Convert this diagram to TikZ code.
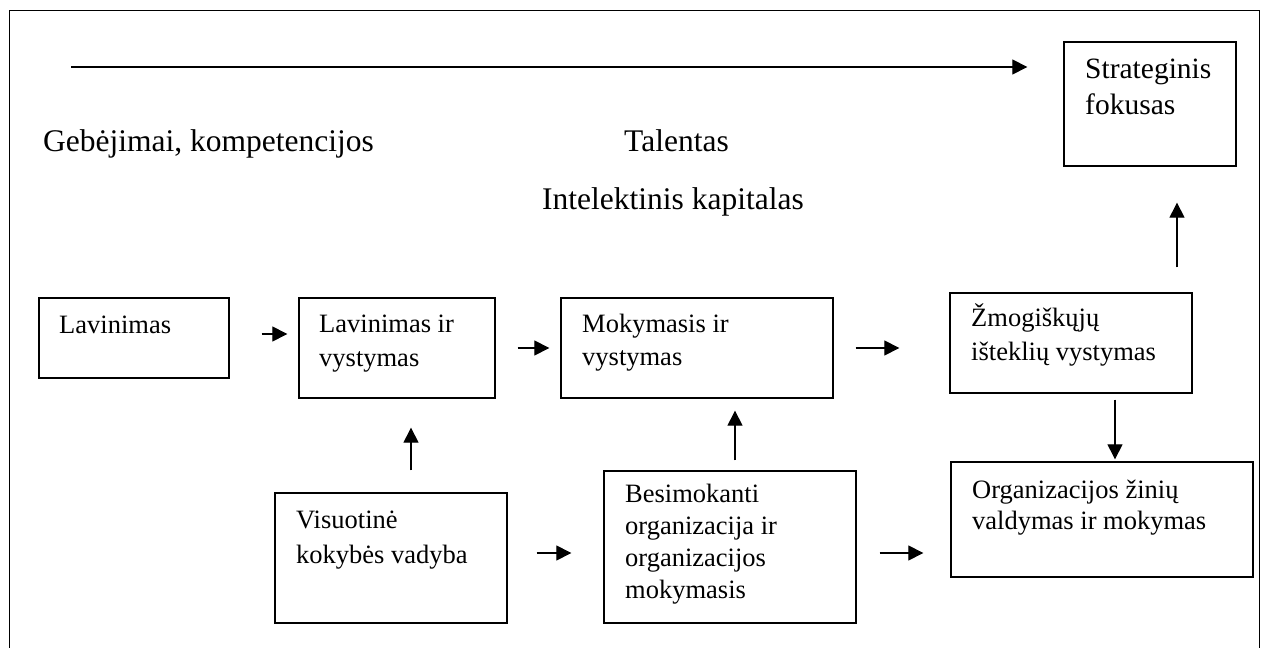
\documentclass[tikz,border=0pt]{standalone}
\usepackage{fontspec}
\setmainfont{Liberation Serif}
\usetikzlibrary{arrows.meta}
\begin{document}
\begin{tikzpicture}[x=1bp,y=-1bp,
  box/.style={draw, line width=1.3bp, inner sep=0pt},
  lbl/.style={anchor=base west, inner sep=0pt, align=left,
    font=\fontsize{26.5bp}{34bp}\selectfont},
  ttl/.style={anchor=base west, inner sep=0pt,
    font=\fontsize{31.5bp}{38bp}\selectfont},
  arr/.style={line width=1.1bp, -{Triangle[length=15bp,width=15bp]}}]
\clip (0,0) rectangle (1263,648);
\fill[white] (0,0) rectangle (1263,648);
% outer frame, open at the bottom edge of the page
\draw[line width=1.4bp] (9.5,700) -- (9.5,10.5) -- (1259.5,10.5) -- (1259.5,700);

% boxes
\node[box, minimum width=172bp, minimum height=124bp] (strat) at (1150,104) {};
\node[box, minimum width=190bp, minimum height=80bp]  (lav)   at (134,338) {};
\node[box, minimum width=196bp, minimum height=100bp] (liv)   at (397,348) {};
\node[box, minimum width=272bp, minimum height=100bp] (mok)   at (697,348) {};
\node[box, minimum width=242bp, minimum height=100bp] (zmog)  at (1071,343) {};
\node[box, minimum width=232bp, minimum height=130bp] (vkv)   at (391,558) {};
\node[box, minimum width=252bp, minimum height=152bp] (bes)   at (730,547) {};
\node[box, minimum width=302bp, minimum height=115bp] (org)   at (1102,519.5) {};

% box texts (placed by the baseline of their last line)
\node[lbl, font=\fontsize{29.5bp}{36bp}\selectfont] (stratT) at (1085,115) {Strateginis\\fokusas};
\node[lbl] (lavT)  at (59,334)  {Lavinimas};
\node[lbl] (livT)  at (319,367) {Lavinimas ir\\vystymas};
\node[lbl, font=\fontsize{26.5bp}{33bp}\selectfont] (mokT)  at (582,366) {Mokymasis ir\\vystymas};
\node[lbl] (zmogT) at (971,361) {Žmogiškųjų\\išteklių vystymas};
\node[lbl, font=\fontsize{26.5bp}{35bp}\selectfont] (vkvT)  at (296,563) {Visuotinė\\kokybės vadyba};
\node[lbl, font=\fontsize{26.5bp}{31.7bp}\selectfont] (besT)  at (625,598) {Besimokanti\\organizacija ir\\organizacijos\\mokymasis};
\node[lbl, font=\fontsize{26.5bp}{31bp}\selectfont] (orgT)  at (972,529) {Organizacijos žinių\\valdymas ir mokymas};

% free-standing headings
\node[ttl] (geb) at (43,152)  {Gebėjimai, kompetencijos};
\node[ttl] (tal) at (624,152) {Talentas};
\node[ttl] (ik)  at (542,210) {Intelektinis kapitalas};

% long arrow along the top
\coordinate (topL) at (71,67);
\draw[arr, shorten >=36bp] (topL) -- (strat.west |- topL);

% horizontal connectors
\draw[arr, shorten <=32bp, shorten >=11bp] (lav.east |- 0,334) -- (liv.west |- 0,334);
\draw[arr, shorten <=22bp, shorten >=11bp] (liv.east |- 0,348) -- (mok.west |- 0,348);
\draw[arr, shorten <=22bp, shorten >=50bp] (mok.east |- 0,348) -- (zmog.west |- 0,348);
\draw[arr, shorten <=29bp, shorten >=32bp] (vkv.east |- 0,553) -- (bes.west |- 0,553);
\draw[arr, shorten <=23bp, shorten >=27bp] (bes.east |- 0,553) -- (org.west |- 0,553);

% vertical connectors
\draw[arr, shorten <=22bp, shorten >=29bp] (vkv.north -| 411,0) -- (liv.south -| 411,0);
\draw[arr, shorten <=10bp, shorten >=12bp] (bes.north -| 735,0) -- (mok.south -| 735,0);
\draw[arr, shorten <=25bp, shorten >=36bp] (zmog.north -| 1177,0) -- (strat.south -| 1177,0);
\draw[arr, shorten <=6bp, shorten >=2bp] (zmog.south -| 1115,0) -- (org.north -| 1115,0);
\end{tikzpicture}
\end{document}
